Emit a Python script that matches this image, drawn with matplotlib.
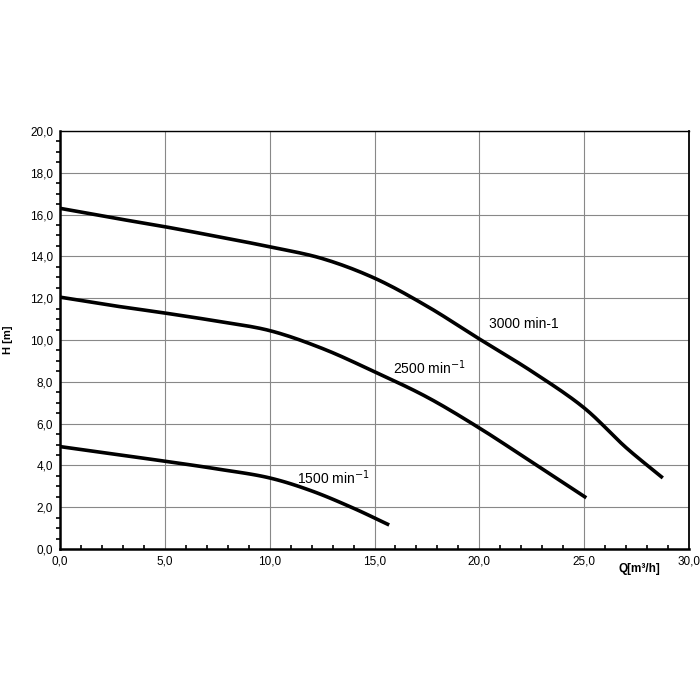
import matplotlib
matplotlib.use("Agg")
import numpy as np
import matplotlib.pyplot as plt
from matplotlib.ticker import MultipleLocator, FuncFormatter

plt.rcParams['font.family'] = ['Liberation Sans', 'DejaVu Sans']

# Data
q3000 = [0.0, 2.5, 5.0, 7.5, 10.0, 12.5, 15.0, 17.5, 20.0, 22.5, 25.0, 27.0, 28.75]
h3000 = [16.3, 15.85, 15.42, 14.95, 14.46, 13.9, 12.96, 11.62, 10.05, 8.5, 6.75, 4.85, 3.4]

q2500 = [0.0, 2.5, 5.0, 7.5, 10.0, 12.5, 15.0, 17.5, 20.0, 22.5, 25.1]
h2500 = [12.05, 11.65, 11.29, 10.9, 10.45, 9.6, 8.48, 7.27, 5.79, 4.16, 2.45]

q1500 = [0.0, 2.5, 5.0, 7.5, 10.0, 12.0, 14.0, 15.7]
h1500 = [4.9, 4.55, 4.2, 3.83, 3.4, 2.78, 1.95, 1.15]

labels = ["3000 min-1", "2500 min$^{-1}$", "1500 min$^{-1}$"]
label_pos = [(20.45, 10.75), (15.9, 8.66), (11.3, 3.4)]


def smooth(x, y, n=16, alpha=0.5):
    """Centripetal Catmull-Rom drawing path through the read points."""
    P = np.column_stack([np.asarray(x, float), np.asarray(y, float)])
    P = np.vstack([2 * P[0] - P[1], P, 2 * P[-1] - P[-2]])
    out = []
    for i in range(1, len(P) - 2):
        p0, p1, p2, p3 = P[i - 1], P[i], P[i + 1], P[i + 2]
        t0 = 0.0
        t1 = t0 + np.linalg.norm(p1 - p0) ** alpha
        t2 = t1 + np.linalg.norm(p2 - p1) ** alpha
        t3 = t2 + np.linalg.norm(p3 - p2) ** alpha
        t = np.linspace(t1, t2, n, endpoint=False)[:, None]
        A1 = (t1 - t) / (t1 - t0) * p0 + (t - t0) / (t1 - t0) * p1
        A2 = (t2 - t) / (t2 - t1) * p1 + (t - t1) / (t2 - t1) * p2
        A3 = (t3 - t) / (t3 - t2) * p2 + (t - t2) / (t3 - t2) * p3
        B1 = (t2 - t) / (t2 - t0) * A1 + (t - t0) / (t2 - t0) * A2
        B2 = (t3 - t) / (t3 - t1) * A2 + (t - t1) / (t3 - t1) * A3
        C = (t2 - t) / (t2 - t1) * B1 + (t - t1) / (t2 - t1) * B2
        out.append(C)
    out.append(P[-2][None, :])
    S = np.vstack(out)
    return S[:, 0], S[:, 1]


fig = plt.figure(figsize=(7, 7), dpi=100)
ax = fig.add_axes([60/700, 1-549/700, (689-60)/700, (549-131)/700])

for q, h in [(q3000, h3000), (q2500, h2500), (q1500, h1500)]:
    xs, ys = smooth(q, h)
    ax.plot(xs, ys, color='black', lw=2.6, solid_capstyle='butt', solid_joinstyle='round', zorder=3)

for lab, (x, y) in zip(labels, label_pos):
    ax.text(x, y, lab, fontsize=10, ha='left', va='center', zorder=4)

ax.set_xlim(0, 30)
ax.set_ylim(0, 20)
ax.xaxis.set_major_locator(MultipleLocator(5))
ax.xaxis.set_minor_locator(MultipleLocator(1))
ax.yaxis.set_major_locator(MultipleLocator(2))
ax.yaxis.set_minor_locator(MultipleLocator(0.5))
fmt = FuncFormatter(lambda v, p: ("%.1f" % v).replace('.', ','))
ax.xaxis.set_major_formatter(fmt)
ax.yaxis.set_major_formatter(fmt)
ax.tick_params(axis='both', which='major', labelsize=8.5, length=0, pad=5)
ax.tick_params(axis='x', which='minor', direction='in', length=3, width=1.2)
ax.tick_params(axis='y', which='minor', direction='out', length=3, width=1.2)
ax.grid(True, which='major', color='#888888', lw=0.8)
ax.set_axisbelow(True)
for s in ax.spines.values():
    s.set_linewidth(1.0)
ax.spines['left'].set_linewidth(1.8)
ax.spines['bottom'].set_linewidth(1.8)
ax.spines['right'].set_linewidth(1.3)

ax.set_ylabel("H [m]", fontsize=8, fontweight='bold', labelpad=12)
ax.text((639-60)/629, -(569-549)/418, "Q[m³/h]", transform=ax.transAxes, fontsize=8.5,
        fontweight='bold', ha='center', va='center')

fig.savefig("out.png", dpi=100)
